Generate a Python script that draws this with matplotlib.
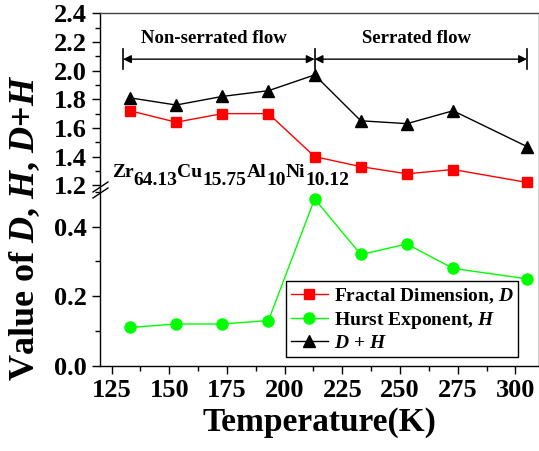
import matplotlib
matplotlib.use("Agg")
import matplotlib.pyplot as plt
from matplotlib.ticker import MultipleLocator
from matplotlib.transforms import offset_copy

plt.rcParams['font.family'] = 'Liberation Serif'
plt.rcParams['font.weight'] = 'bold'
plt.rcParams['axes.labelweight'] = 'bold'
plt.rcParams['mathtext.fontset'] = 'custom'
plt.rcParams['mathtext.rm'] = 'Liberation Serif:bold'
plt.rcParams['mathtext.bf'] = 'Liberation Serif:bold'
plt.rcParams['mathtext.it'] = 'Liberation Serif:bold:italic'

# data
temp = [133, 153, 173, 193, 213, 233, 253, 273, 305]
D = [1.72, 1.64, 1.70, 1.70, 1.40, 1.33, 1.28, 1.31, 1.22]
H = [0.11, 0.12, 0.12, 0.13, 0.48, 0.32, 0.35, 0.28, 0.25]
DH = [1.81, 1.76, 1.82, 1.86, 1.97, 1.65, 1.63, 1.72, 1.47]
regions = [(130, 213, 'Non-serrated flow'), (213, 305, 'Serrated flow')]
arrow_y = 2.08
formula = [('Zr', '64.13'), ('Cu', '15.75'), ('Al', '10'), ('Ni', '10.12')]

fig = plt.figure(figsize=(5.39, 4.51), dpi=100)
L, R = 100/539, 538.5/539
yb, ymid, yt = 1-365.7/451, 1-190/451, 1-13.3/451
axu = fig.add_axes([L, ymid, R-L, yt-ymid])
axl = fig.add_axes([L, yb, R-L, ymid-yb])

red, green = '#ff0000', '#00ff00'
for ax in (axu, axl):
    ax.plot(temp, D, '-s', color=red, ms=7, lw=1, label='Fractal Dimension, $\\mathit{D}$')
    ax.plot(temp, H, '-o', color=green, ms=8, lw=1, label='Hurst Exponent, $\\mathit{H}$')
    ax.plot(temp, DH, '-^', color='black', ms=8, lw=1, label='$\\mathit{D}$ + $\\mathit{H}$')
    ax.set_xlim(120, 310)
    ax.xaxis.set_major_locator(MultipleLocator(25))
    ax.xaxis.set_minor_locator(MultipleLocator(12.5))
    ax.yaxis.set_major_locator(MultipleLocator(0.2))
    ax.yaxis.set_minor_locator(MultipleLocator(0.1))
    ax.tick_params(which='major', direction='out', length=6, width=1, labelsize=19)
    ax.tick_params(which='minor', direction='out', length=3.5, width=1)
    for s in ax.spines.values():
        s.set_linewidth(1)

axu.set_ylim(1.167, 2.4)
axl.set_ylim(0, 0.5056)
axu.spines['bottom'].set_visible(False)
axl.spines['top'].set_visible(False)
axu.tick_params(axis='x', which='both', bottom=False, labelbottom=False)
axu.tick_params(axis='y', which='both', right=False)
axl.tick_params(axis='both', which='both', top=False, right=False)
axu.spines['right'].set_color('#444444')
axu.spines['top'].set_color('#444444')

# break marks on left spine
for dy in (-4, 2):
    fig.add_artist(plt.Line2D([93/539, 108/539],
                              [1-(196+dy)/451, 1-(186+dy)/451],
                              color='black', lw=1))

# flow-region arrows
for x0, x1, lbl in regions:
    axu.annotate('', xy=(x1, arrow_y), xytext=(x0, arrow_y),
                 arrowprops=dict(arrowstyle='<|-|>', color='black', lw=1,
                                 shrinkA=0, shrinkB=0, mutation_scale=12))
    axu.text((x0 + x1) / 2 - 2, 2.195, lbl, ha='center', va='baseline', fontsize=13.5)
for xb in (regions[0][0], regions[0][1], regions[1][1]):
    axu.plot([xb, xb], [arrow_y - 0.07, arrow_y + 0.07], color='black', lw=1.2)

# alloy formula, subscripts at full size but lowered
renderer = fig.canvas.get_renderer()
base = axu.get_yaxis_transform()
xpix = 0.0
for el, sub in formula:
    for s, dy in ((el, 0), (sub, -6)):
        tr = offset_copy(base, fig=fig, x=xpix * 72 / fig.dpi, y=dy, units='points')
        t = axu.text(0.027, 1.258, s, transform=tr, fontsize=14, va='baseline', ha='left')
        xpix += t.get_window_extent(renderer).width

axl.legend(loc='lower right', bbox_to_anchor=(0.954, 0.0495), borderaxespad=0,
           fontsize=14, fancybox=False, edgecolor='black', framealpha=1,
           handlelength=1.9, borderpad=0.25, labelspacing=0.2, handletextpad=0.3)

axl.set_xlabel('Temperature(K)', fontsize=24, labelpad=4)
fig.text(0.045, 0.496, 'Value of $\\mathit{D}$, $\\mathit{H}$, $\\mathit{D}$+$\\mathit{H}$',
         rotation=90, ha='center', va='center', fontsize=26)

fig.savefig('out.png', dpi=100)
